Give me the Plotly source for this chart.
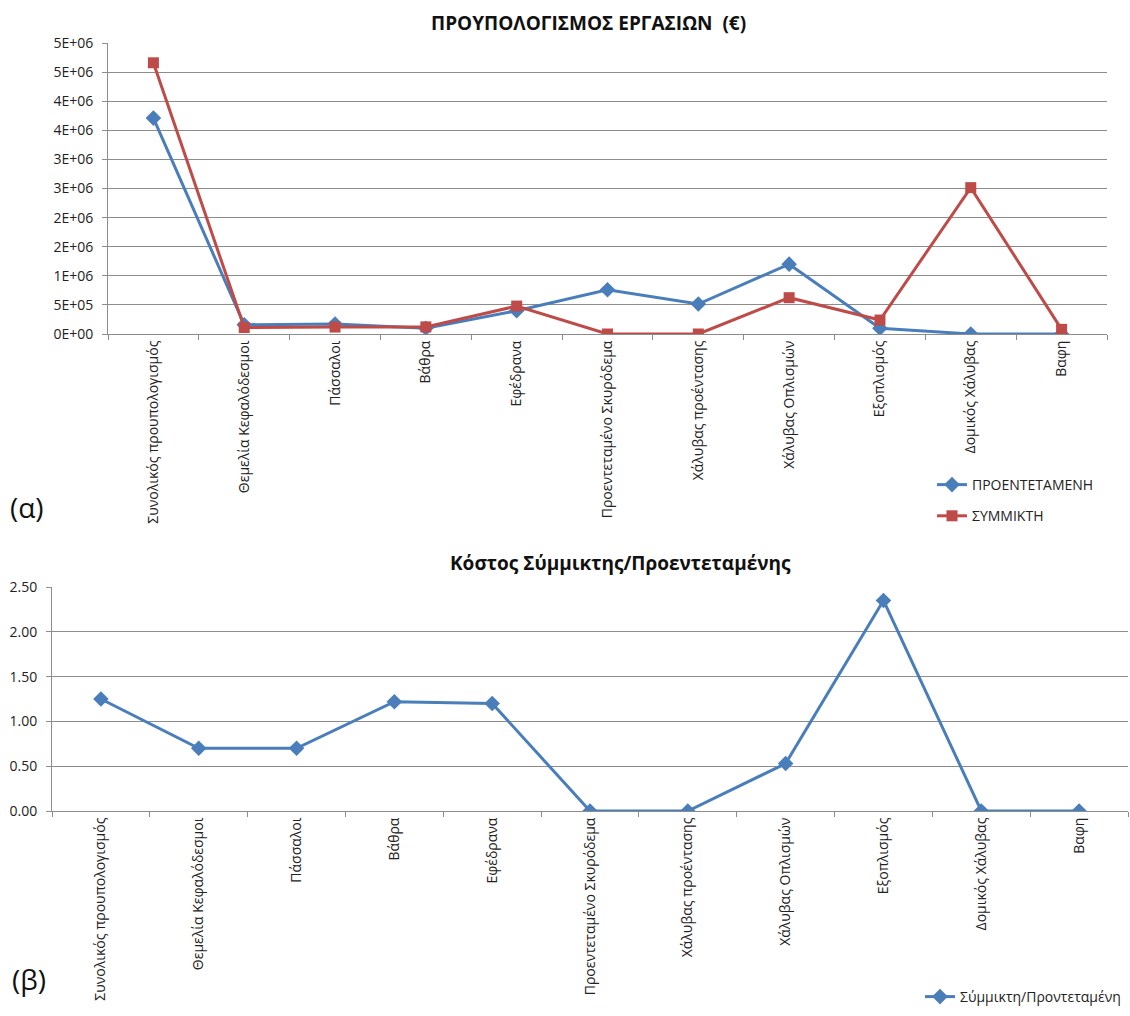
import plotly.graph_objects as go

# Work items (categories)
categories = [
    "Συνολικός προυπολογισμός",
    "Θεμελία Κεφαλόδεσμοι",
    "Πάσσαλοι",
    "Βάθρα",
    "Εφέδρανα",
    "Προεντεταμένο Σκυρόδεμα",
    "Χάλυβας προέντασης",
    "Χάλυβας Οπλισμών",
    "Εξοπλισμός",
    "Δομικός Χάλυβας",
    "Βαφη",
]

# Budget per work item (€)
prestressed = [3710000, 160000, 170000, 100000, 400000, 760000, 515000, 1200000, 100000, 0, 0]
composite = [4660000, 112000, 119000, 122000, 480000, 0, 0, 624000, 240000, 2515000, 80000]

# Cost ratio composite / prestressed
ratio = [1.25, 0.70, 0.70, 1.22, 1.20, 0, 0, 0.53, 2.35, 0, 0]

# Axis tick values and labels
budget_ticks = [0, 500000, 1000000, 1500000, 2000000, 2500000, 3000000, 3500000, 4000000, 4500000, 5000000]
budget_tick_labels = ["0E+00", "5E+05", "1E+06", "2E+06", "2E+06", "3E+06", "3E+06", "4E+06", "4E+06", "5E+06", "5E+06"]
ratio_ticks = [0, 0.5, 1.0, 1.5, 2.0, 2.5]
ratio_tick_labels = ["0.00", "0.50", "1.00", "1.50", "2.00", "2.50"]

BLUE = "#4A7EBB"
RED = "#BE4B48"
GRID = "#8C8C8C"
FONT = "Open Sans, DejaVu Sans, sans-serif"
W, H = 1130, 1016


def px_x(p):
    return p / W


def px_y(p):
    return 1 - p / H


fig = go.Figure()

fig.add_trace(go.Scatter(
    x=categories, y=prestressed, name="ΠΡΟΕΝΤΕΤΑΜΕΝΗ", mode="lines+markers",
    line=dict(color=BLUE, width=3), marker=dict(symbol="diamond", size=12, color=BLUE),
    xaxis="x", yaxis="y", legend="legend", legendgroup="a",
))
fig.add_trace(go.Scatter(
    x=categories, y=composite, name="ΣΥΜΜΙΚΤΗ", mode="lines+markers",
    line=dict(color=RED, width=3), marker=dict(symbol="square", size=11, color=RED),
    xaxis="x", yaxis="y", legend="legend", legendgroup="b",
))
fig.add_trace(go.Scatter(
    x=categories, y=ratio, name="Σύμμικτη/Προντεταμένη", mode="lines+markers",
    line=dict(color=BLUE, width=3), marker=dict(symbol="diamond", size=12, color=BLUE),
    xaxis="x2", yaxis="y2", legend="legend2",
))

xcommon = dict(
    type="category", range=[-0.5, len(categories) - 0.5], tickangle=-90,
    ticks="outside", tickson="boundaries", ticklen=5, tickcolor=GRID,
    showline=True, linecolor=GRID, linewidth=1, showgrid=False, zeroline=False,
    automargin=False,
    tickfont=dict(family=FONT, size=14, color="#222"),
)
ycommon = dict(
    ticks="outside", ticklen=5, tickcolor=GRID, showline=True, linecolor=GRID, linewidth=1,
    showgrid=True, gridcolor=GRID, gridwidth=1, zeroline=False, automargin=False,
    ticklabelstandoff=6,
    tickfont=dict(family=FONT, size=14, color="#222"),
)

legend_font = dict(family=FONT, size=14, color="#222")

fig.update_layout(
    width=W, height=H, margin=dict(l=0, r=0, t=0, b=0, autoexpand=False),
    paper_bgcolor="white", plot_bgcolor="white",
    xaxis=dict(domain=[px_x(108), px_x(1107)], anchor="y", **xcommon),
    yaxis=dict(domain=[px_y(334), px_y(43)], anchor="x", range=[0, 5000000],
               tickvals=budget_ticks, ticktext=budget_tick_labels, **ycommon),
    xaxis2=dict(domain=[px_x(52), px_x(1128)], anchor="y2", **xcommon),
    yaxis2=dict(domain=[px_y(811), px_y(587)], anchor="x2", range=[0, 2.5],
                tickvals=ratio_ticks, ticktext=ratio_tick_labels, **ycommon),
    legend=dict(x=px_x(932), y=px_y(469), xanchor="left", yanchor="top",
                font=legend_font, bgcolor="rgba(0,0,0,0)",
                itemwidth=30, tracegroupgap=10),
    legend2=dict(x=px_x(920), y=px_y(981), xanchor="left", yanchor="top",
                 font=legend_font, bgcolor="rgba(0,0,0,0)", itemwidth=30),
    showlegend=True,
)


def label(text, x, y, size, xanchor="center"):
    fig.add_annotation(text=text, x=px_x(x), y=px_y(y), xref="paper", yref="paper",
                       xanchor=xanchor, yanchor="middle", showarrow=False,
                       font=dict(family=FONT, size=size, color="#111"))


label("<b>ΠΡΟΥΠΟΛΟΓΙΣΜΟΣ ΕΡΓΑΣΙΩΝ  (€)</b>", 588, 23, 19)
label("<b>Κόστος Σύμμικτης/Προεντεταμένης</b>", 620, 563, 19)
label("(α)", 8, 507, 28, xanchor="left")
label("(β)", 10, 979, 28, xanchor="left")

fig.write_html("out.html")
